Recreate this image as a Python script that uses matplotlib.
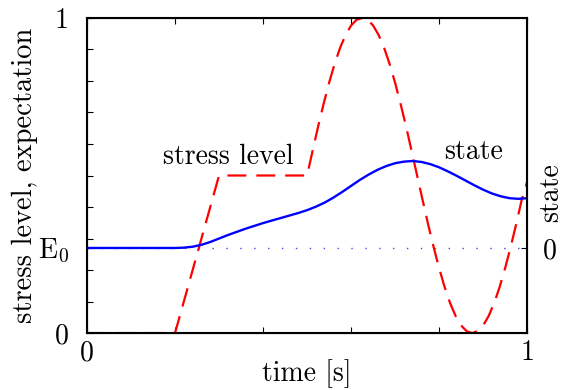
import matplotlib
matplotlib.use("Agg")
import matplotlib.pyplot as plt

plt.rcParams['font.family'] = 'serif'
plt.rcParams['font.serif'] = ['cmr10']
plt.rcParams['mathtext.fontset'] = 'cm'
plt.rcParams['axes.formatter.use_mathtext'] = True

# values
E0 = 0.27

stress_t = [0.0, 0.2, 0.3, 0.5,
            0.5125, 0.525, 0.5375, 0.55, 0.5625, 0.575, 0.5875, 0.6, 0.6125, 0.625,
            0.6375, 0.65, 0.6625, 0.675, 0.6875, 0.7, 0.7125, 0.725, 0.7375, 0.75,
            0.7625, 0.775, 0.7875, 0.8, 0.8125, 0.825, 0.8375, 0.85, 0.8625, 0.875,
            0.8875, 0.9, 0.9125, 0.925, 0.9375, 0.95, 0.9625, 0.975, 0.9875, 1.0]
stress = [0.0, 0.0, 0.5, 0.5,
          0.578, 0.655, 0.727, 0.794, 0.854, 0.905, 0.946, 0.976, 0.994, 1.0,
          0.994, 0.976, 0.946, 0.905, 0.854, 0.794, 0.727, 0.655, 0.578, 0.5,
          0.422, 0.345, 0.273, 0.206, 0.146, 0.095, 0.054, 0.024, 0.006, 0.0,
          0.006, 0.024, 0.054, 0.095, 0.146, 0.206, 0.273, 0.345, 0.422, 0.48]

state_t = [0.0, 0.2, 0.22, 0.24, 0.26, 0.28, 0.30, 0.32, 0.34, 0.36, 0.38, 0.40,
           0.42, 0.44, 0.46, 0.48, 0.50, 0.52, 0.54, 0.56, 0.58, 0.60, 0.62, 0.64,
           0.66, 0.68, 0.70, 0.72, 0.74, 0.76, 0.78, 0.80, 0.82, 0.84, 0.86, 0.88,
           0.90, 0.92, 0.94, 0.96, 0.98, 1.0]
state = [0.270, 0.270, 0.271, 0.274, 0.280, 0.289, 0.300, 0.311, 0.321, 0.331, 0.340, 0.349,
         0.357, 0.365, 0.373, 0.381, 0.390, 0.401, 0.414, 0.430, 0.448, 0.467, 0.486, 0.503,
         0.518, 0.530, 0.539, 0.544, 0.546, 0.543, 0.536, 0.526, 0.513, 0.499, 0.484, 0.469,
         0.455, 0.443, 0.434, 0.428, 0.426, 0.428]

fig = plt.figure(figsize=(5.65, 3.9), dpi=100)
ax = fig.add_axes([0.154, 0.146, 0.779, 0.808])

ax.axhline(E0, color='#4444ff', linestyle=(0, (1, 9)), linewidth=1.0)
ax.plot(stress_t, stress, color='red', linestyle=(0, (8.5, 4.5)), linewidth=1.6)
ax.plot(state_t, state, color='blue', linewidth=1.7)

ax.set_xlim(0, 1)
ax.set_ylim(0, 1)
ax.set_xticks([0, 1])
ax.set_xticklabels(['0', '1'])
ax.set_xticks([0.2, 0.4, 0.6, 0.8], minor=True)
ax.set_yticks([0, E0, 1])
ax.set_yticklabels(['0', r'$\mathrm{E}_0$', '1'])
ax.set_yticks([0.1, 0.2, 0.3, 0.4, 0.5, 0.6, 0.7, 0.8, 0.9], minor=True)
ax.tick_params(which='both', direction='in', top=True, right=False,
               labelsize=20, length=4, width=0.8)
ax.tick_params(axis='x', pad=5)
ax.tick_params(axis='y', pad=13)
for s in ax.spines.values():
    s.set_linewidth(1.5)

ax.set_xlabel('time [s]', fontsize=20, labelpad=-5)
ax.set_ylabel('stress level, expectation', fontsize=20.5)
ax.yaxis.set_label_coords(-0.112, 0.5)

ax.text(0.32, 0.56, 'stress level', fontsize=20, ha='center', va='center')
ax.text(0.877, 0.575, 'state', fontsize=20, ha='center', va='center')

ax2 = ax.twinx()
ax2.set_ylim(0, 1)
ax2.set_yticks([E0])
ax2.set_yticklabels(['0'])
ax2.tick_params(direction='in', labelsize=20, length=4, width=0.8, pad=11)
ax2.set_ylabel('state', fontsize=20)
ax2.yaxis.set_label_coords(1.025, 0.445)

fig.savefig('out.png', dpi=100)
